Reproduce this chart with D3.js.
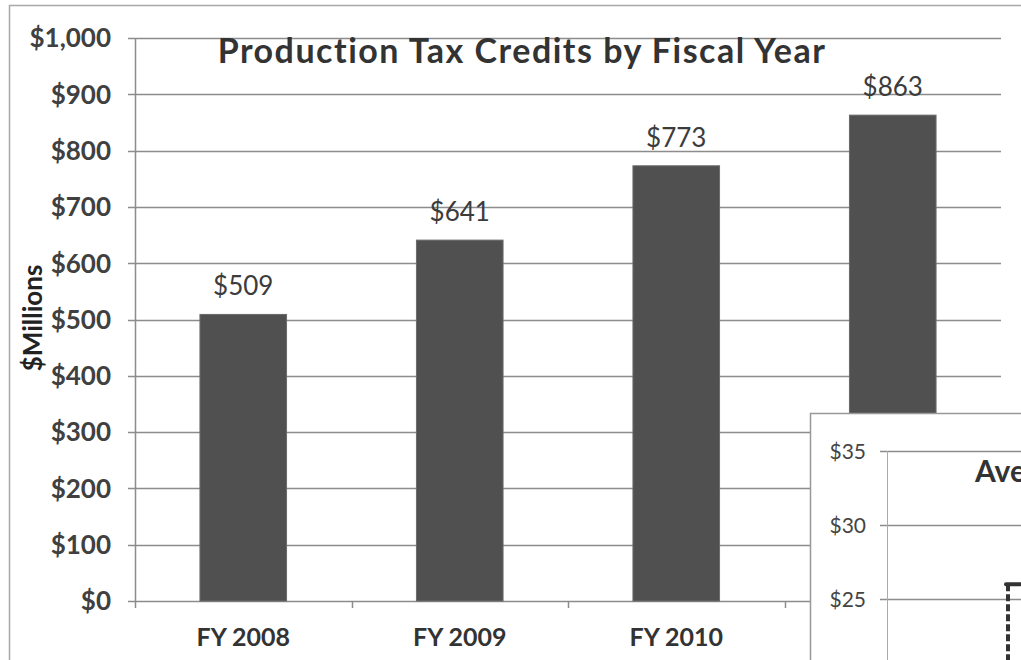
<!DOCTYPE html>
<html>
<head>
<meta charset="utf-8">
<script src="https://cdn.jsdelivr.net/npm/d3@7"></script>
<style>
  html, body { margin: 0; padding: 0; background: #fff; }
  svg { display: block; }
  text { font-family: Lato, "Open Sans", sans-serif; }
</style>
</head>
<body>
<svg id="chart" width="1021" height="660"></svg>
<script>
// ---- data ----
const categories = ["FY 2008", "FY 2009", "FY 2010", "FY 2011"];
const values = [509, 641, 773, 863];
const valueLabels = ["$509", "$641", "$773", "$863"];
const yTicks = [0, 100, 200, 300, 400, 500, 600, 700, 800, 900, 1000];
const yTickLabels = ["$0", "$100", "$200", "$300", "$400", "$500", "$600", "$700", "$800", "$900", "$1,000"];
const titleText = "Production Tax Credits by Fiscal Year";
const yAxisTitle = "$Millions";
// inset chart (partially visible)
const insetTicks = [25, 30, 35];
const insetTickLabels = ["$25", "$30", "$35"];
const insetTitle = "Average";
const insetLineTop = 26;

const svg = d3.select("#chart");

// outer border of the main chart
svg.append("path")
  .attr("d", "M9.5,660 V5.5 H1021")
  .attr("fill", "none").attr("stroke", "#a8a8a8").attr("stroke-width", 1.5);

const plot = { left: 135, right: 1001, top: 38, bottom: 601 };

const x = d3.scaleBand().domain(categories).range([plot.left, plot.right]).paddingInner(0.6).paddingOuter(0.3);
const xb = d3.scaleBand().domain(categories).range([plot.left, plot.right]);
const y = d3.scaleLinear().domain([0, 1000]).range([plot.bottom, plot.top]);

// gridlines
svg.append("g").selectAll("line").data(yTicks).join("line")
  .attr("x1", plot.left - 7).attr("x2", plot.right)
  .attr("y1", d => Math.round(y(d)) + 0.5).attr("y2", d => Math.round(y(d)) + 0.5)
  .attr("stroke", "#8c8c8c").attr("stroke-width", 1.5);

// y axis line
svg.append("line")
  .attr("x1", plot.left + 0.5).attr("x2", plot.left + 0.5)
  .attr("y1", plot.top).attr("y2", plot.bottom + 7)
  .attr("stroke", "#8c8c8c").attr("stroke-width", 1.5);

// x ticks at band boundaries
svg.append("g").selectAll("line").data(categories.slice(1)).join("line")
  .attr("x1", d => Math.round(xb(d)) + 0.5).attr("x2", d => Math.round(xb(d)) + 0.5)
  .attr("y1", plot.bottom).attr("y2", plot.bottom + 7)
  .attr("stroke", "#8c8c8c").attr("stroke-width", 1.5);

// y tick labels
svg.append("g").selectAll("text").data(yTicks).join("text")
  .attr("x", 111).attr("y", d => y(d))
  .attr("dy", "0.36em")
  .attr("text-anchor", "end")
  .attr("font-size", 26).attr("font-weight", "bold").attr("fill", "#404040")
  .text((d, i) => yTickLabels[i]);

// bars
svg.append("g").selectAll("rect").data(values).join("rect")
  .attr("x", (d, i) => x(categories[i]))
  .attr("width", x.bandwidth())
  .attr("y", d => y(d))
  .attr("height", d => y(0) - y(d))
  .attr("fill", "#505050")
  .attr("stroke", "#6a6a6a").attr("stroke-width", 1);

// value labels
svg.append("g").selectAll("text").data(values).join("text")
  .attr("x", (d, i) => x(categories[i]) + x.bandwidth() / 2)
  .attr("y", d => y(d) - 19)
  .attr("text-anchor", "middle")
  .attr("font-size", 26).attr("fill", "#3c3c3c")
  .text((d, i) => valueLabels[i]);

// x labels
svg.append("g").selectAll("text").data(categories).join("text")
  .attr("x", d => x(d) + x.bandwidth() / 2)
  .attr("y", 646)
  .attr("text-anchor", "middle")
  .attr("font-size", 25).attr("font-weight", "bold").attr("fill", "#333")
  .text(d => d);

// title
svg.append("text")
  .attr("x", 522).attr("y", 63)
  .attr("text-anchor", "middle")
  .attr("font-size", 34).attr("font-weight", "bold").attr("fill", "#333")
  .attr("letter-spacing", 1.5)
  .text(titleText);

// y axis title
svg.append("text")
  .attr("transform", "translate(42,318) rotate(-90)")
  .attr("text-anchor", "middle")
  .attr("font-size", 26).attr("font-weight", "bold").attr("fill", "#222")
  .text(yAxisTitle);

// ---- inset chart ----
const inset = svg.append("g");
inset.append("rect")
  .attr("x", 810.5).attr("y", 413.5).attr("width", 230).attr("height", 260)
  .attr("fill", "#fff").attr("stroke", "#999").attr("stroke-width", 1.5);

const iy = d3.scaleLinear().domain([25, 35]).range([599, 451]);
const ix = d3.scaleLinear().domain([0, 1]).range([887, 1129]);

inset.append("g").selectAll("line").data(insetTicks).join("line")
  .attr("x1", 880).attr("x2", 1021)
  .attr("y1", d => Math.round(iy(d)) + 0.5).attr("y2", d => Math.round(iy(d)) + 0.5)
  .attr("stroke", "#8c8c8c").attr("stroke-width", 1.5);

inset.append("line")
  .attr("x1", 887.5).attr("x2", 887.5).attr("y1", 451).attr("y2", 660)
  .attr("stroke", "#aaa").attr("stroke-width", 1);

inset.append("g").selectAll("text").data(insetTicks).join("text")
  .attr("x", 866).attr("y", d => iy(d)).attr("dy", "0.36em")
  .attr("text-anchor", "end")
  .attr("font-size", 21).attr("fill", "#444")
  .text((d, i) => insetTickLabels[i]);

inset.append("text")
  .attr("x", 975).attr("y", 482)
  .attr("font-size", 30).attr("font-weight", "bold").attr("fill", "#333")
  .text(insetTitle);

const lx = ix(0.5);
inset.append("line")
  .attr("x1", lx).attr("x2", lx).attr("y1", iy(insetLineTop)).attr("y2", 660)
  .attr("stroke", "#333").attr("stroke-width", 4).attr("stroke-dasharray", "7,3");
inset.append("line")
  .attr("x1", lx - 2).attr("x2", lx + 12).attr("y1", iy(insetLineTop)).attr("y2", iy(insetLineTop))
  .attr("stroke", "#333").attr("stroke-width", 4).attr("stroke-linecap", "round");
</script>
</body>
</html>
